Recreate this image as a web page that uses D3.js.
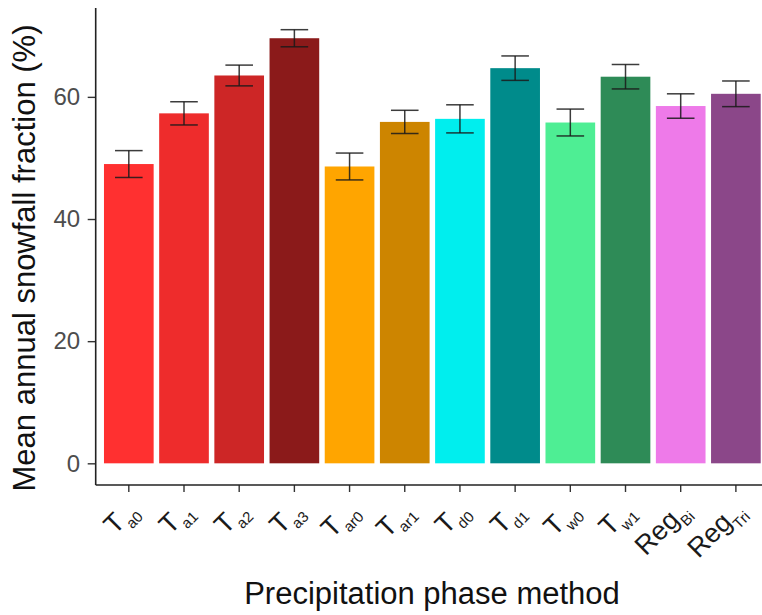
<!DOCTYPE html>
<html>
<head>
<meta charset="utf-8">
<script src="https://cdn.jsdelivr.net/npm/d3@7"></script>
<style>
  html, body { margin: 0; padding: 0; background: #fff; }
  svg { display: block; font-family: "Liberation Sans", Arial, sans-serif; }
</style>
</head>
<body>
<svg id="chart" width="762" height="615"></svg>
<script>
// Precipitation phase methods: main symbol + subscript
const methodBase = ["T", "T", "T", "T", "T", "T", "T", "T", "T", "T", "Reg", "Reg"];
const methodSub  = ["a0", "a1", "a2", "a3", "ar0", "ar1", "d0", "d1", "w0", "w1", "Bi", "Tri"];
// Mean annual snowfall fraction (%) and its error half-width
const snowMean = [49.0, 57.3, 63.5, 69.6, 48.6, 55.9, 56.4, 64.7, 55.8, 63.3, 58.5, 60.5];
const snowErr  = [2.2, 1.9, 1.7, 1.4, 2.2, 1.9, 2.3, 2.0, 2.2, 2.0, 2.0, 2.1];
const barColors = ["#FF3030", "#EE2C2C", "#CD2626", "#8B1A1A", "#FFA500", "#CD8500",
                   "#00EEEE", "#008B8B", "#4EEE94", "#2E8B57", "#EE7AE9", "#8B4789"];
const yTicks = [0, 20, 40, 60];

const svg = d3.select("#chart");
const plotLeft = 95.7, plotRight = 769, plotTop = 8, plotBottom = 485;

const keys = methodSub.map((s, i) => methodBase[i] + s);
const data = keys.map((k, i) => ({
  key: k, base: methodBase[i], sub: methodSub[i],
  mean: snowMean[i], err: snowErr[i], color: barColors[i]
}));

const x = d3.scaleBand().domain(keys).range([plotLeft, plotRight])
  .paddingInner(0.1).paddingOuter(0.15);

const yMax = d3.max(data, d => d.mean + d.err);
const pad = yMax * 0.05;
const y = d3.scaleLinear().domain([-pad, yMax + pad]).range([plotBottom, plotTop]);

// bars
svg.append("g").selectAll("rect").data(data).join("rect")
  .attr("x", d => x(d.key))
  .attr("width", x.bandwidth())
  .attr("y", d => y(d.mean))
  .attr("height", d => y(0) - y(d.mean))
  .attr("fill", d => d.color);

// error bars
const capW = x.step() * 0.5;
const eb = svg.append("g").attr("stroke", "#1a1a1a").attr("stroke-opacity", 0.85)
  .attr("stroke-width", 1.5).attr("fill", "none");
data.forEach(d => {
  const cx = x(d.key) + x.bandwidth() / 2;
  const y1 = y(d.mean + d.err), y0 = y(d.mean - d.err);
  eb.append("line").attr("x1", cx).attr("x2", cx).attr("y1", y1).attr("y2", y0);
  eb.append("line").attr("x1", cx - capW / 2).attr("x2", cx + capW / 2).attr("y1", y1).attr("y2", y1);
  eb.append("line").attr("x1", cx - capW / 2).attr("x2", cx + capW / 2).attr("y1", y0).attr("y2", y0);
});

// y axis
const yAxis = svg.append("g").attr("transform", `translate(${plotLeft},0)`)
  .call(d3.axisLeft(y).tickValues(yTicks).tickSize(8).tickPadding(7.5).tickFormat(d3.format("d")));
yAxis.select(".domain").remove();
yAxis.selectAll(".tick line").attr("stroke", "#333").attr("stroke-width", 1.4);
yAxis.selectAll(".tick text").attr("fill", "#4d4d4d").attr("font-size", 24)
  .attr("font-family", "Liberation Sans, Arial, sans-serif");

// x axis
const xAxis = svg.append("g").attr("transform", `translate(0,${plotBottom})`)
  .call(d3.axisBottom(x).tickSize(7).tickFormat(""));
xAxis.select(".domain").remove();
xAxis.selectAll(".tick line").attr("stroke", "#333").attr("stroke-width", 1.4);

// axis lines
svg.append("line").attr("x1", plotLeft).attr("x2", plotLeft).attr("y1", plotTop).attr("y2", plotBottom)
  .attr("stroke", "#222").attr("stroke-width", 1.6);
svg.append("line").attr("x1", plotLeft).attr("x2", 762).attr("y1", plotBottom).attr("y2", plotBottom)
  .attr("stroke", "#222").attr("stroke-width", 1.6);

// rotated category labels with subscripts
const labels = svg.append("g");
data.forEach(d => {
  const cx = x(d.key) + x.bandwidth() / 2;
  const t = labels.append("text")
    .attr("transform", `translate(${cx + 9.5},${plotBottom + 27}) rotate(-45)`)
    .attr("text-anchor", "end")
    .attr("fill", "#1a1a1a")
    .attr("font-size", 27);
  t.append("tspan").text(d.base);
  t.append("tspan").attr("font-size", 15).attr("dy", 8).text(d.sub);
});

// axis titles
svg.append("text")
  .attr("x", 432).attr("y", 604)
  .attr("text-anchor", "middle")
  .attr("font-size", 31).attr("fill", "#111")
  .text("Precipitation phase method");

svg.append("text")
  .attr("transform", "translate(35,258) rotate(-90)")
  .attr("text-anchor", "middle")
  .attr("font-size", 31).attr("fill", "#111")
  .text("Mean annual snowfall fraction (%)");
</script>
</body>
</html>
